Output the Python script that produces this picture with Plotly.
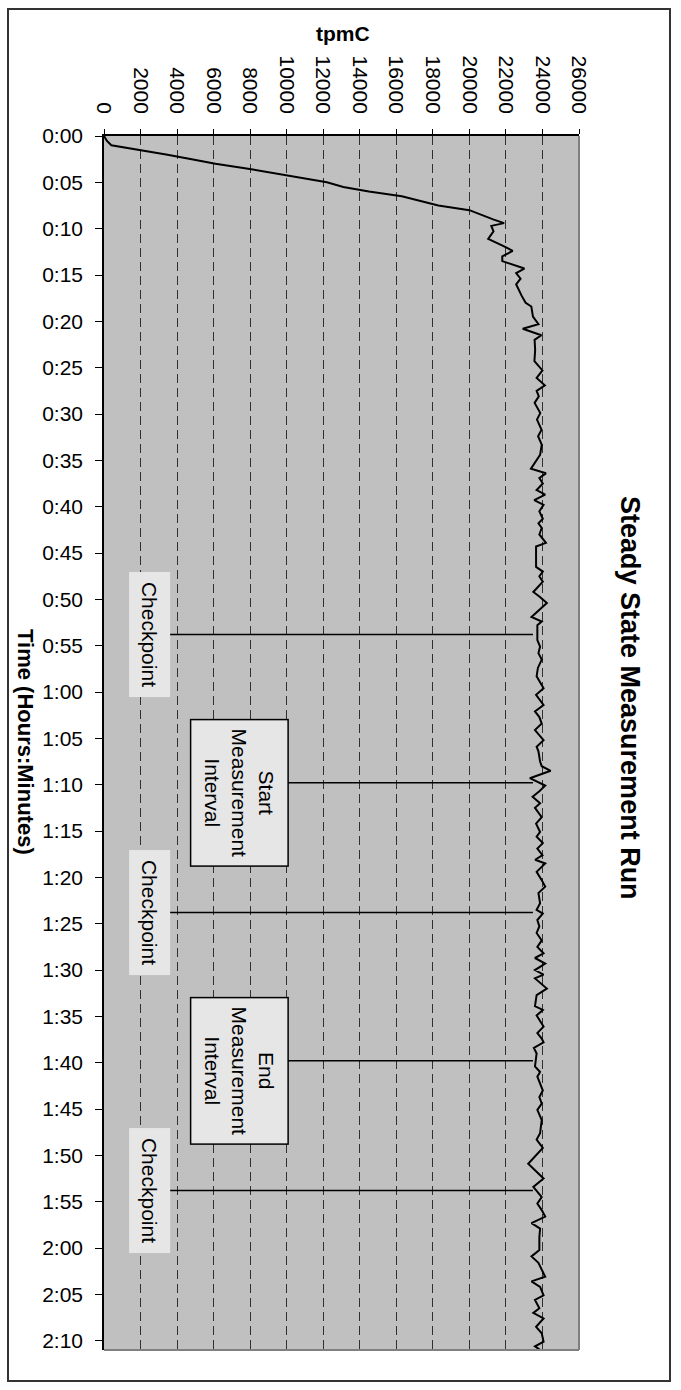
import plotly.graph_objects as go

# ---------------- data ----------------
minutes = [0, 0.5, 1, 1.5, 2, 2.5, 3, 3.5, 4, 4.5, 5, 5.5, 6, 6.5, 7, 7.5, 8, 8.5, 9, 9.4,
           9.7, 10.3, 11.1, 11.9, 12.4, 13.0, 13.5, 14.3, 14.8, 15.4, 16.0, 17.2, 18.0, 18.4,
           19.5, 20.3, 20.8, 21.5, 22.0, 23.1, 24.3, 25.3, 26.1, 26.9, 27.5, 28.1, 28.8, 29.9,
           30.6, 31.7, 32.4, 33.3, 34.4,
           35.9, 36.4, 36.9, 37.5, 38.2, 38.7, 39.3, 39.8, 40.5, 41.3, 41.8, 42.3, 43.0, 43.9,
           44.3, 46.5, 47.0, 47.5, 48.1, 49.2, 49.7, 50.4, 51.9, 52.4, 52.8, 53.8, 54.4, 55.1,
           55.8, 56.5, 57.4, 58.3, 59.6,
           60.3, 61.4, 62.1, 62.7, 63.4, 64.1, 65.2, 65.9, 66.4, 67.5, 68.0, 68.5, 69.3, 70.1,
           70.7, 71.3, 72.0, 72.5, 73.5, 74.2, 75.1, 75.6, 76.3, 76.9, 77.6, 78.1, 78.5, 79.4,
           80.3, 81.0, 81.7, 82.8, 83.5, 83.9, 84.6, 85.3,
           86.0, 86.8, 87.5, 88.2, 88.7, 89.3, 90.0, 90.5, 90.9, 92.0, 92.7, 93.9, 94.3, 94.9,
           96.1, 96.8, 97.4, 97.8, 98.4, 99.0, 100.4, 101.0, 101.5, 103.0, 103.7, 104.4, 105.1,
           105.7, 106.2, 107.6, 108.3, 109.2, 110.9,
           112.5, 113.4, 114.5, 115.2, 115.9, 116.6, 117.3, 117.9, 118.8, 120.2, 120.9, 121.6,
           123.1, 123.6, 124.2, 125.1, 125.6, 126.5, 127.0, 127.6, 128.5, 129.2, 130.1, 130.6,
           131.2, 132.1]

tpmc = [0, 150, 400, 2000, 3400, 4800, 6100, 7800, 9300, 10900, 12200, 13100, 14500, 16300,
        17300, 18300, 20000, 20600, 21300, 21900,
        21200, 21320, 21030, 21900, 22370, 21800, 21800, 23010, 22560, 22800, 22560, 22850,
        23080, 23390, 23480, 23780, 22920, 23940, 23570, 23600, 23560, 24000, 23680, 24130,
        23680, 23800, 23570, 23880, 23700, 23950, 23760, 23960, 23870,
        23370, 24190, 23830, 24020, 23680, 24150, 23550, 24060, 23830, 24020, 23780, 23960,
        23830, 24190, 23650, 23650, 24020, 23830, 24020, 23500, 23830, 24240, 23400, 23960,
        23720, 23700, 23720, 23870, 23780, 23960, 23750, 23680, 24060,
        23650, 24060, 23590, 23830, 23960, 23590, 24060, 23680, 23780, 23870, 23960, 24450,
        23310, 24150, 23830, 23460, 23870, 23590, 23960, 23650, 23870, 23680, 24020, 23720,
        24000, 23600, 24150, 23680, 23960, 24150, 23780, 23870, 23680, 24020, 23720, 23830,
        23680, 23960, 23720, 24060, 23590, 24150, 23590, 24060, 23590, 24240, 23680, 23590,
        24020, 23680, 24060, 23720, 23960, 24060, 23530, 23680, 23590, 23870, 23720, 24020,
        23830, 23960, 23720, 23830, 23960, 23870, 23680, 24020, 23220,
        24060, 23500, 23960, 23720, 23960, 24150, 23400, 23870, 23830, 23830, 23400, 23780,
        24150, 23400, 23870, 24060, 23590, 23830, 23500, 24060, 23650, 23960, 24060, 23590,
        24020, 23870]

x_tick_values = [0, 2000, 4000, 6000, 8000, 10000, 12000, 14000, 16000, 18000, 20000,
                 22000, 24000, 26000]
y_tick_labels = ["0:00", "0:05", "0:10", "0:15", "0:20", "0:25", "0:30", "0:35", "0:40",
                 "0:45", "0:50", "0:55", "1:00", "1:05", "1:10", "1:15", "1:20", "1:25",
                 "1:30", "1:35", "1:40", "1:45", "1:50", "1:55", "2:00", "2:05", "2:10"]

checkpoint_minutes = [53.8, 83.8, 113.8]
interval_minutes = [69.8, 99.8]
interval_labels = ["Start<br>Measurement<br>Interval", "End<br>Measurement<br>Interval"]

# ---------------- layout helpers ----------------
W, H = 681, 1390
L, R, T, B = 104, 102, 136, 40
PW, PH = W - L - R, H - T - B


def px_x(px):
    return (px - L) / PW


def px_y(py):
    return (H - B - py) / PH


FONT = "Liberation Sans, Arial, sans-serif"
y_tick_vals = [int(s.split(":")[0]) * 60 + int(s.split(":")[1]) for s in y_tick_labels]

fig = go.Figure()
fig.add_trace(go.Scatter(x=tpmc, y=minutes, mode="lines",
                         line=dict(color="black", width=2), hoverinfo="skip",
                         showlegend=False))

shapes = []
annotations = []

# callout lines + labels
for t in checkpoint_minutes:
    shapes.append(dict(type="line", xref="x", yref="y", x0=3560, x1=23480, y0=t, y1=t,
                       line=dict(color="black", width=1.5)))
    annotations.append(dict(x=2520, y=t, xref="x", yref="y", text="Checkpoint",
                            showarrow=False, textangle=90, bgcolor="#e6e6e6",
                            width=122, height=38, xanchor="center", yanchor="middle",
                            font=dict(family=FONT, size=21, color="black")))
for t, lab in zip(interval_minutes, interval_labels):
    shapes.append(dict(type="line", xref="x", yref="y", x0=10020, x1=23480, y0=t, y1=t,
                       line=dict(color="black", width=1.5)))
    annotations.append(dict(x=7390, y=t, xref="x", yref="y", text=lab, yshift=-10,
                            showarrow=False, textangle=90, bgcolor="#e6e6e6",
                            bordercolor="black", borderwidth=1.5,
                            width=143, height=94, xanchor="center", yanchor="middle",
                            font=dict(family=FONT, size=21, color="black")))

# plot-area frame (right and bottom in gray)
shapes.append(dict(type="line", xref="paper", yref="paper", x0=1, x1=1, y0=0, y1=1,
                   line=dict(color="#808080", width=2)))
shapes.append(dict(type="line", xref="paper", yref="paper", x0=0, x1=1, y0=0, y1=0,
                   line=dict(color="#808080", width=2)))
# outer chart border
shapes.append(dict(type="rect", xref="paper", yref="paper",
                   x0=px_x(8), x1=px_x(670), y0=px_y(1381), y1=px_y(9),
                   line=dict(color="#333333", width=2)))

# titles
annotations.append(dict(x=px_x(343), y=px_y(33), xref="paper", yref="paper", text="<b>tpmC</b>",
                        showarrow=False, xanchor="center", yanchor="middle",
                        font=dict(family=FONT, size=21, color="black")))
annotations.append(dict(x=px_x(26), y=px_y(742), xref="paper", yref="paper",
                        text="<b>Time (Hours:Minutes)</b>", showarrow=False, textangle=90,
                        xanchor="center", yanchor="middle",
                        font=dict(family=FONT, size=22, color="black")))
annotations.append(dict(x=px_x(630), y=px_y(698), xref="paper", yref="paper",
                        text="<b>Steady State Measurement Run</b>", showarrow=False,
                        textangle=90, xanchor="center", yanchor="middle",
                        font=dict(family=FONT, size=27, color="black")))

fig.update_layout(
    width=W, height=H, autosize=False,
    margin=dict(l=L, r=R, t=T, b=B, pad=0),
    paper_bgcolor="white", plot_bgcolor="#c0c0c0",
    font=dict(family=FONT, color="black"),
    shapes=shapes, annotations=annotations,
    xaxis=dict(side="top", range=[0, 26000], tickmode="array", tickvals=x_tick_values,
               ticktext=[str(v) for v in x_tick_values], tickangle=90,
               ticks="outside", ticklen=5, tickcolor="black", tickwidth=1,
               tickfont=dict(family=FONT, size=21, color="black"),
               showline=True, linecolor="black", linewidth=1.5,
               showgrid=True, gridcolor="#303030", gridwidth=1, griddash="9px,5px",
               zeroline=False, ticklabelstandoff=8, fixedrange=True),
    yaxis=dict(range=[131, 0], tickmode="array", tickvals=y_tick_vals, ticktext=y_tick_labels,
               ticks="outside", ticklen=7, tickcolor="black", tickwidth=1,
               tickfont=dict(family=FONT, size=21, color="black"),
               showline=True, linecolor="black", linewidth=1.5,
               showgrid=False, zeroline=False, ticklabelstandoff=8, fixedrange=True),
)

fig.write_html("out.html", config={"displayModeBar": False},
               post_script="document.body.style.margin='0px';"
                           "document.body.style.overflow='hidden';")
